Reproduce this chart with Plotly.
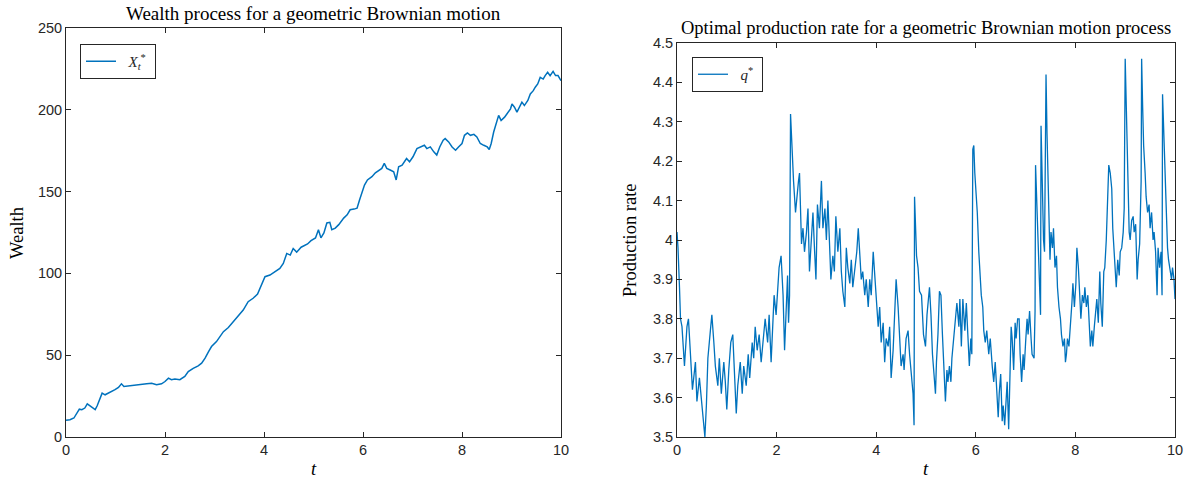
import plotly.graph_objects as go

# ---------------- data ----------------
t_wealth = [0, 0.08, 0.16, 0.22, 0.27, 0.32, 0.38, 0.43, 0.48, 0.54, 0.59, 0.63, 0.69, 0.73,
            0.79, 0.86, 0.92, 0.99, 1.06, 1.12, 1.17, 1.26, 1.33, 1.43, 1.53, 1.63, 1.73, 1.83,
            1.93, 2.00, 2.07, 2.13, 2.20, 2.30, 2.40, 2.47, 2.57, 2.67, 2.74, 2.81, 2.88, 2.94,
            3.04, 3.11, 3.18, 3.28, 3.38, 3.48, 3.58, 3.68, 3.78, 3.87, 3.93, 4.02, 4.12, 4.22,
            4.32, 4.39, 4.46, 4.53, 4.59, 4.66, 4.75, 4.88, 4.95,
            5.04, 5.10, 5.15, 5.21, 5.27, 5.33, 5.37, 5.44, 5.51, 5.61, 5.68, 5.74, 5.82, 5.88,
            5.93, 5.98, 6.03, 6.09, 6.18, 6.25, 6.32, 6.38, 6.43, 6.48, 6.55, 6.62, 6.67, 6.72,
            6.79, 6.88, 6.94, 7.01, 7.09, 7.16, 7.24, 7.29, 7.36, 7.43, 7.49, 7.55, 7.62, 7.66,
            7.73, 7.80, 7.87, 7.93, 8.00, 8.05, 8.11, 8.17, 8.24, 8.30, 8.37, 8.44, 8.51, 8.55,
            8.59, 8.64, 8.69, 8.74, 8.79, 8.86, 8.91, 8.98, 9.01, 9.06, 9.11, 9.16, 9.21, 9.26,
            9.33, 9.38, 9.44, 9.48, 9.53, 9.58, 9.64, 9.68, 9.73, 9.78, 9.84, 9.89, 9.94, 10.0]
wealth = [10.2, 10.6, 11.6, 14.6, 17.0, 16.7, 17.7, 20.3, 19.3, 17.7, 16.7, 19.1, 23.2, 26.8,
          25.8, 26.8, 27.4, 28.9, 30.3, 32.5, 30.9, 31.3, 31.3, 31.9, 32.5, 32.5, 32.9, 31.9,
          32.5, 33.9, 36.0, 35.0, 35.4, 35.0, 37.0, 40.0, 42.0, 43.5, 45.1, 48.2, 52.2, 55.3,
          58.3, 61.4, 64.4, 66.9, 70.5, 73.6, 77.6, 82.7, 84.8, 87.4, 91.9, 98.0, 99.0, 101.0,
          103.0, 106.1, 112.2, 111.2, 115.2, 113.0, 116.0, 118.0, 120.0,
          121.7, 126.7, 121.7, 124.7, 130.8, 131.2, 126.7, 127.7, 129.8, 133.8, 135.8, 138.9, 139.3, 139.9,
          144.9, 149.0, 154.0, 157.1, 159.1, 161.5, 163.2, 164.2, 167.2, 164.2, 163.2, 162.1, 157.1, 165.2,
          166.2, 170.2, 168.2, 171.3, 176.3, 177.3, 178.3, 176.3, 177.3, 174.3, 172.3, 177.3, 181.4, 182.4,
          180.4, 177.3, 175.3, 177.3, 179.4, 184.4, 185.8, 184.4, 185.0, 183.4, 179.4, 178.3, 177.3, 175.7,
          179.4, 186.4, 191.5, 196.6, 193.5, 195.5, 197.6, 200.6, 203.6, 201.6, 198.6, 201.6, 204.7, 202.6,
          205.7, 209.7, 211.7, 213.8, 215.8, 219.8, 218.8, 220.9, 222.9, 220.9, 223.5, 220.9, 220.9, 217.8]

t_rate = [0.00, 0.02, 0.05, 0.07, 0.10, 0.15, 0.20, 0.23, 0.27, 0.31, 0.37, 0.40, 0.45, 0.50,
          0.54, 0.56, 0.59, 0.62, 0.67, 0.70, 0.74, 0.77, 0.82, 0.85, 0.89, 0.94, 0.97, 1.00,
          1.04, 1.08, 1.12, 1.16, 1.19, 1.22, 1.27, 1.31, 1.34, 1.39, 1.43, 1.46, 1.51, 1.54,
          1.57, 1.61, 1.65, 1.69, 1.74, 1.77, 1.82, 1.85, 1.89, 1.92, 1.95, 1.99, 2.02, 2.05,
          2.09, 2.13, 2.16, 2.19, 2.22, 2.24, 2.26, 2.28, 2.31, 2.34, 2.38,
          2.41, 2.44, 2.46, 2.48, 2.50, 2.53, 2.56, 2.60, 2.63, 2.66, 2.70, 2.73, 2.76, 2.79,
          2.82, 2.86, 2.90, 2.93, 2.97, 3.00, 3.03, 3.07, 3.09, 3.13, 3.16, 3.19, 3.23, 3.27,
          3.30, 3.33, 3.37, 3.40, 3.43, 3.47, 3.50, 3.53, 3.57, 3.61, 3.64, 3.67, 3.70, 3.73,
          3.77, 3.80, 3.84, 3.87, 3.90, 3.94, 3.97, 4.00, 4.04, 4.07, 4.10, 4.14, 4.17, 4.20,
          4.24, 4.27, 4.30, 4.34, 4.37, 4.40, 4.44, 4.47, 4.50, 4.54, 4.56, 4.60, 4.64, 4.67,
          4.71, 4.74, 4.76, 4.77, 4.81, 4.84, 4.87, 4.91,
          4.95, 4.99, 5.02, 5.05, 5.07, 5.10, 5.13, 5.16, 5.19, 5.21, 5.24, 5.27, 5.30, 5.33,
          5.36, 5.39, 5.42, 5.44, 5.47, 5.50, 5.52, 5.56, 5.59, 5.62, 5.66, 5.68, 5.71, 5.74,
          5.78, 5.81, 5.84, 5.87, 5.90, 5.92, 5.94, 5.96, 5.98, 6.00, 6.03, 6.06, 6.08, 6.11,
          6.14, 6.16, 6.19, 6.22, 6.26, 6.29, 6.33, 6.36, 6.39, 6.42, 6.45, 6.47, 6.50, 6.53,
          6.55, 6.58, 6.61, 6.63, 6.66, 6.68, 6.71, 6.73, 6.76, 6.79, 6.81, 6.84, 6.87, 6.89,
          6.92, 6.95, 6.97, 7.00, 7.03, 7.05, 7.08, 7.11, 7.13, 7.17, 7.19, 7.20, 7.23, 7.25,
          7.27, 7.30, 7.31, 7.33, 7.36, 7.38, 7.41,
          7.43, 7.45, 7.47, 7.49, 7.51, 7.54, 7.56, 7.59, 7.62, 7.64, 7.67, 7.70, 7.72, 7.75,
          7.78, 7.80, 7.82, 7.84, 7.87, 7.90, 7.93, 7.95, 7.98, 8.01, 8.03, 8.06, 8.09, 8.11,
          8.14, 8.17, 8.19, 8.22, 8.25, 8.27, 8.30, 8.33, 8.35, 8.38, 8.41, 8.43, 8.46, 8.49,
          8.51, 8.54, 8.57, 8.59, 8.62, 8.65, 8.67, 8.70, 8.73, 8.75, 8.77, 8.80, 8.82, 8.85,
          8.88, 8.90, 8.93, 8.96, 8.98, 9.00, 9.02, 9.04, 9.06, 9.08, 9.10, 9.13, 9.16, 9.18,
          9.21, 9.24, 9.26, 9.29, 9.32, 9.33, 9.35, 9.37, 9.40, 9.42, 9.45, 9.48, 9.50, 9.53,
          9.56, 9.58, 9.61, 9.64, 9.66, 9.69, 9.72, 9.74, 9.75, 9.77, 9.79, 9.82, 9.85, 9.87,
          9.90, 9.93, 9.95, 9.98, 10.0]
rate = [4.02, 3.98, 3.88, 3.80, 3.78, 3.68, 3.78, 3.80, 3.71, 3.62, 3.69, 3.59, 3.65, 3.59,
        3.53, 3.50, 3.58, 3.70, 3.77, 3.81, 3.74, 3.68, 3.63, 3.70, 3.61, 3.69, 3.64, 3.57,
        3.67, 3.74, 3.76, 3.66, 3.56, 3.63, 3.69, 3.61, 3.68, 3.63, 3.71, 3.65, 3.74, 3.70,
        3.78, 3.72, 3.76, 3.69, 3.76, 3.80, 3.74, 3.81, 3.69, 3.78, 3.86, 3.81, 3.89, 3.93,
        3.96, 3.86, 3.72, 3.81, 3.91, 3.79, 3.86, 4.32, 4.21, 4.15, 4.07,
        4.12, 4.15, 4.17, 4.06, 3.99, 4.03, 3.97, 4.02, 4.08, 3.92, 4.00, 4.07, 3.98, 3.90,
        4.09, 4.03, 4.15, 4.03, 4.08, 4.00, 4.10, 3.97, 3.90, 3.96, 3.92, 4.06, 3.97, 4.03,
        3.92, 3.87, 3.83, 3.98, 3.93, 3.89, 3.95, 3.88, 3.93, 3.97, 4.03, 3.97, 3.90, 3.92,
        3.86, 3.90, 3.83, 3.90, 3.86, 3.97, 3.92, 3.86, 3.78, 3.83, 3.74, 3.79, 3.69, 3.75,
        3.73, 3.78, 3.65, 3.72, 3.80, 3.90, 3.83, 3.75, 3.68, 3.71, 3.67, 3.75, 3.77, 3.71,
        3.66, 3.61, 3.53, 4.11, 3.96, 3.93, 3.87, 3.86,
        3.76, 3.73, 3.81, 3.85, 3.88, 3.81, 3.71, 3.66, 3.61, 3.69, 3.76, 3.87, 3.86, 3.76,
        3.69, 3.59, 3.67, 3.64, 3.68, 3.64, 3.70, 3.76, 3.79, 3.84, 3.78, 3.85, 3.73, 3.85,
        3.77, 3.84, 3.76, 3.68, 3.75, 3.71, 4.23, 4.24, 4.17, 4.13, 4.07, 3.97, 3.91, 3.86,
        3.83, 3.77, 3.74, 3.77, 3.71, 3.75, 3.68, 3.64, 3.69, 3.63, 3.55, 3.61, 3.66, 3.54,
        3.58, 3.53, 3.61, 3.64, 3.52, 3.64, 3.78, 3.75, 3.67, 3.79, 3.75, 3.80, 3.80, 3.71,
        3.64, 3.71, 3.67, 3.74, 3.80, 3.76, 3.82, 3.75, 3.71, 3.70, 3.82, 4.19, 4.09, 4.02,
        3.96, 3.81, 4.29, 4.14, 4.00, 3.97, 4.42,
        4.27, 4.13, 4.07, 3.95, 4.02, 3.98, 4.03, 3.93, 3.96, 3.88, 3.83, 3.80, 3.76, 3.73,
        3.75, 3.69, 3.71, 3.75, 3.73, 3.78, 3.84, 3.89, 3.83, 3.89, 3.98, 3.93, 3.84, 3.80,
        3.86, 3.84, 3.88, 3.83, 3.86, 3.79, 3.73, 3.77, 3.73, 3.78, 3.83, 3.85, 3.79, 3.92,
        3.84, 3.78, 3.92, 3.93, 4.00, 4.14, 4.19, 4.17, 4.13, 4.03, 3.98, 3.93, 3.88, 3.95,
        3.91, 3.97, 3.98, 4.02, 4.08, 4.46, 4.34, 4.27, 4.08, 4.02, 4.00, 4.05, 4.06, 4.02,
        4.04, 3.90, 3.95, 3.99, 4.15, 4.46, 4.34, 4.24, 4.17, 4.11, 4.07, 4.09, 4.03, 4.07,
        4.00, 4.02, 3.97, 3.86, 3.98, 3.93, 3.97, 3.86, 4.37, 4.29, 4.17, 4.10, 3.98, 3.95,
        3.92, 3.90, 3.93, 3.90, 3.85]

x_ticks = [0, 2, 4, 6, 8, 10]
wealth_ticks = [0, 50, 100, 150, 200, 250]
rate_ticks = [3.5, 3.6, 3.7, 3.8, 3.9, 4.0, 4.1, 4.2, 4.3, 4.4, 4.5]
rate_tick_text = ["3.5", "3.6", "3.7", "3.8", "3.9", "4", "4.1", "4.2", "4.3", "4.4", "4.5"]

# ---------------- figure ----------------
W, H = 1186, 480
LINE = "#0072BD"
AX = "#262626"
SERIF = "Liberation Serif, DejaVu Serif, serif"
SANS = "Liberation Sans, Arial, sans-serif"
TFS = 18.5

fig = go.Figure()
fig.add_trace(go.Scatter(x=t_wealth, y=wealth, mode="lines",
                         line=dict(color=LINE, width=1.5),
                         name="&nbsp;&nbsp;<i>X</i><sub><i>t</i></sub><sup>*</sup>&nbsp;",
                         xaxis="x", yaxis="y", legend="legend"))
fig.add_trace(go.Scatter(x=t_rate, y=rate, mode="lines",
                         line=dict(color=LINE, width=1.3),
                         name="&nbsp;&nbsp;<i>q</i><sup>*</sup>&nbsp;",
                         xaxis="x2", yaxis="y2", legend="legend2"))

def px_x(p):
    return p / W

def px_y(p):
    return (H - p) / H

axis_common = dict(showgrid=False, zeroline=False, showline=True, linecolor=AX, linewidth=1,
                   mirror="ticks", ticks="inside", ticklen=5, tickcolor=AX, tickwidth=1,
                   automargin=False,
                   tickfont=dict(family=SANS, size=14.5, color=AX))

fig.update_layout(
    width=W, height=H, autosize=False,
    margin=dict(l=0, r=0, t=0, b=0, pad=0, autoexpand=False),
    paper_bgcolor="white", plot_bgcolor="white",
    xaxis=dict(domain=[px_x(66), px_x(561)], range=[0, 10], tickvals=x_ticks,
               anchor="y", **axis_common),
    yaxis=dict(domain=[px_y(437), px_y(28)], range=[0, 250], tickvals=wealth_ticks,
               anchor="x", **axis_common),
    xaxis2=dict(domain=[px_x(677), px_x(1175)], range=[0, 10], tickvals=x_ticks,
                anchor="y2", **axis_common),
    yaxis2=dict(domain=[px_y(437), px_y(43)], range=[3.5, 4.5], tickvals=rate_ticks,
                ticktext=rate_tick_text, anchor="x2", **axis_common),
    legend=dict(x=px_x(80), y=px_y(44), xanchor="left", yanchor="top",
                bordercolor=AX, borderwidth=1, bgcolor="white",
                font=dict(family=SERIF, size=15, color=AX),
                itemwidth=30, tracegroupgap=0),
    legend2=dict(x=px_x(692), y=px_y(57), xanchor="left", yanchor="top",
                 bordercolor=AX, borderwidth=1, bgcolor="white",
                 font=dict(family=SERIF, size=15, color=AX),
                 itemwidth=30, tracegroupgap=0),
    showlegend=True,
    annotations=[
        dict(text="Wealth process for a geometric Brownian motion", x=px_x(313.5), y=px_y(13),
             xref="paper", yref="paper", showarrow=False, xanchor="center", yanchor="middle",
             font=dict(family=SERIF, size=19, color="black")),
        dict(text="Optimal production rate for a geometric Brownian motion process", x=px_x(926),
             y=px_y(28), xref="paper", yref="paper", showarrow=False, xanchor="center",
             yanchor="middle", font=dict(family=SERIF, size=TFS, color="black")),
        dict(text="Wealth", x=px_x(17), y=px_y(233), xref="paper", yref="paper", showarrow=False,
             textangle=-90, xanchor="center", yanchor="middle",
             font=dict(family=SERIF, size=TFS, color="black")),
        dict(text="Production rate", x=px_x(630), y=px_y(240), xref="paper", yref="paper",
             showarrow=False, textangle=-90, xanchor="center", yanchor="middle",
             font=dict(family=SERIF, size=TFS, color="black")),
        dict(text="<i>t</i>", x=px_x(313.5), y=px_y(469), xref="paper", yref="paper",
             showarrow=False, xanchor="center", yanchor="middle",
             font=dict(family=SERIF, size=TFS, color="black")),
        dict(text="<i>t</i>", x=px_x(926), y=px_y(469), xref="paper", yref="paper",
             showarrow=False, xanchor="center", yanchor="middle",
             font=dict(family=SERIF, size=TFS, color="black")),
    ],
)

fig.write_html("out.html",
               post_script="document.body.style.margin='0';document.body.style.overflow='hidden';")
